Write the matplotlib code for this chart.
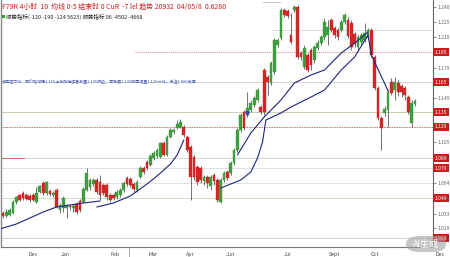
import matplotlib
matplotlib.use('Agg')
import matplotlib.pyplot as plt
import matplotlib.transforms as mtransforms
from matplotlib.patches import FancyBboxPatch, Rectangle

plt.rcParams['font.family'] = ['Noto Sans CJK SC', 'DejaVu Sans']

# ---------------- data ----------------
opens = [1.034, 1.031, 1.032, 1.034, 1.045, 1.052, 1.054, 1.052, 1.051, 1.052,
         1.045, 1.055, 1.064, 1.054, 1.056, 1.052, 1.057, 1.037, 1.039, 1.039,
         1.041, 1.039, 1.043, 1.046, 1.045, 1.057, 1.060, 1.063, 1.067, 1.065,
         1.062, 1.062, 1.052, 1.052, 1.050, 1.052, 1.057, 1.069, 1.068, 1.063,
         1.057, 1.070, 1.079, 1.085, 1.082, 1.089, 1.091, 1.090, 1.104, 1.092,
         1.110, 1.115, 1.119, 1.120, 1.120, 1.110, 1.100, 1.090, 1.080, 1.079,
         1.066, 1.070, 1.061, 1.072, 1.067, 1.045, 1.067, 1.075, 1.074, 1.084,
         1.097, 1.117, 1.135, 1.132, 1.137, 1.142, 1.147, 1.140, 1.177, 1.170,
         1.164, 1.175, 1.202, 1.209, 1.237, 1.236, 1.212, 1.237, 1.240, 1.194,
         1.180, 1.192, 1.197, 1.187, 1.199, 1.204, 1.210, 1.212, 1.227, 1.219,
         1.217, 1.217, 1.225, 1.227, 1.224, 1.213, 1.200, 1.205, 1.207, 1.209,
         1.217, 1.190, 1.159, 1.129, 1.134, 1.137, 1.165, 1.157, 1.164, 1.161,
         1.159, 1.150, 1.124, 1.143]
highs = [1.036, 1.038, 1.039, 1.047, 1.051, 1.053, 1.056, 1.054, 1.053, 1.054,
         1.060, 1.062, 1.066, 1.066, 1.058, 1.056, 1.059, 1.044, 1.051, 1.043,
         1.042, 1.043, 1.045, 1.048, 1.060, 1.079, 1.069, 1.069, 1.069, 1.072,
         1.064, 1.064, 1.054, 1.054, 1.057, 1.059, 1.066, 1.071, 1.070, 1.065,
         1.067, 1.081, 1.081, 1.087, 1.093, 1.096, 1.099, 1.105, 1.106, 1.112,
         1.119, 1.119, 1.127, 1.128, 1.122, 1.112, 1.102, 1.092, 1.082, 1.081,
         1.072, 1.072, 1.072, 1.074, 1.069, 1.069, 1.076, 1.077, 1.086, 1.099,
         1.119, 1.134, 1.137, 1.155, 1.147, 1.151, 1.159, 1.142, 1.179, 1.172,
         1.186, 1.209, 1.209, 1.239, 1.239, 1.238, 1.234, 1.242, 1.242, 1.196,
         1.202, 1.194, 1.199, 1.202, 1.207, 1.212, 1.229, 1.227, 1.229, 1.221,
         1.219, 1.227, 1.234, 1.230, 1.227, 1.215, 1.212, 1.214, 1.224, 1.219,
         1.219, 1.192, 1.161, 1.131, 1.141, 1.157, 1.169, 1.170, 1.167, 1.163,
         1.161, 1.152, 1.147, 1.148]
lows = [1.029, 1.030, 1.031, 1.033, 1.043, 1.046, 1.047, 1.047, 1.045, 1.046,
        1.044, 1.054, 1.052, 1.052, 1.051, 1.050, 1.039, 1.034, 1.035, 1.029,
        1.037, 1.035, 1.033, 1.035, 1.044, 1.056, 1.057, 1.061, 1.053, 1.047,
        1.052, 1.047, 1.045, 1.047, 1.048, 1.050, 1.055, 1.061, 1.060, 1.055,
        1.055, 1.069, 1.073, 1.077, 1.081, 1.087, 1.089, 1.089, 1.091, 1.091,
        1.109, 1.113, 1.118, 1.119, 1.110, 1.095, 1.047, 1.067, 1.062, 1.064,
        1.062, 1.059, 1.057, 1.062, 1.045, 1.044, 1.065, 1.067, 1.072, 1.082,
        1.095, 1.115, 1.117, 1.130, 1.135, 1.140, 1.145, 1.133, 1.132, 1.152,
        1.162, 1.173, 1.200, 1.207, 1.230, 1.229, 1.203, 1.235, 1.188, 1.187,
        1.178, 1.175, 1.177, 1.184, 1.197, 1.202, 1.207, 1.202, 1.215, 1.209,
        1.207, 1.215, 1.223, 1.209, 1.197, 1.200, 1.197, 1.202, 1.205, 1.207,
        1.190, 1.157, 1.127, 1.097, 1.131, 1.120, 1.152, 1.147, 1.151, 1.150,
        1.147, 1.133, 1.120, 1.141]
closes = [1.031, 1.035, 1.037, 1.045, 1.050, 1.047, 1.049, 1.048, 1.047, 1.047,
          1.054, 1.061, 1.054, 1.065, 1.053, 1.054, 1.040, 1.042, 1.049, 1.041,
          1.040, 1.041, 1.035, 1.037, 1.058, 1.074, 1.067, 1.067, 1.055, 1.052,
          1.054, 1.050, 1.047, 1.049, 1.055, 1.057, 1.064, 1.063, 1.062, 1.058,
          1.065, 1.079, 1.075, 1.079, 1.091, 1.094, 1.097, 1.104, 1.092, 1.110,
          1.117, 1.117, 1.123, 1.125, 1.112, 1.097, 1.070, 1.070, 1.065, 1.067,
          1.070, 1.064, 1.070, 1.066, 1.047, 1.067, 1.074, 1.069, 1.084, 1.097,
          1.117, 1.132, 1.119, 1.139, 1.144, 1.149, 1.157, 1.135, 1.135, 1.165,
          1.184, 1.207, 1.207, 1.237, 1.232, 1.231, 1.205, 1.240, 1.190, 1.190,
          1.199, 1.177, 1.182, 1.200, 1.204, 1.210, 1.225, 1.220, 1.217, 1.212,
          1.210, 1.225, 1.232, 1.211, 1.200, 1.203, 1.210, 1.212, 1.214, 1.217,
          1.192, 1.159, 1.129, 1.119, 1.138, 1.155, 1.154, 1.165, 1.155, 1.155,
          1.152, 1.135, 1.144, 1.146]

# moving-average style curves (candle index, price)
ma1_idx = [-1, 4, 8, 12, 16, 20, 24, 29]
ma1_val = [1.018, 1.023, 1.029, 1.035, 1.040, 1.042, 1.044, 1.046]
ma2_idx = [28, 33, 38, 43, 46, 50, 52, 54]
ma2_val = [1.040, 1.044, 1.051, 1.063, 1.071, 1.083, 1.092, 1.107]
ma3_idx = [70, 74, 78, 83, 87, 92, 96, 101, 105, 109]
ma3_val = [1.092, 1.114, 1.130, 1.147, 1.164, 1.172, 1.177, 1.194, 1.204, 1.215]
ma4_idx = [65, 71, 74, 76, 77.5, 78.5, 83, 86, 92, 96, 101, 105, 109, 110, 112.5, 115]
ma4_val = [1.059, 1.067, 1.075, 1.089, 1.105, 1.127, 1.134, 1.140, 1.150, 1.157,
           1.177, 1.190, 1.212, 1.192, 1.174, 1.156]

# horizontal levels
level_boxes = [1.195, 1.165, 1.135, 1.120, 1.089, 1.079, 1.049, 1.009]
plain_ticks = [1.240, 1.225, 1.210, 1.179, 1.149, 1.105, 1.064, 1.033, 1.019]
month_labels = ['Dec', 'Jan', 'Feb', 'Mar', 'Apr', 'Jun', 'Jul', 'Sept', 'Oct', 'Dec']
month_pos = [9.0, 18.5, 33.4, 44.8, 55.8, 67.8, 85.1, 99.1, 111.0, 130.4]

title1 = 'F79R 4小时  10  均线 0-5 结束时 0 CuR  -7 lel 趋势 20932  04/05/8  0.6280'
title2 = '顺势指标(-120 -190 -124 5623) 顺势指标 06 -4502 -4668'
note_text = '支撑阻力线：若价格站稳1.165上方则继续看涨至1.195附近，若跌破1.135则回落至1.120一线，关注1.089支撑'

# ---------------- figure ----------------
W, H = 450, 257
fig = plt.figure(figsize=(W / 100, H / 100), dpi=100)
fig.patch.set_facecolor('white')
ax = fig.add_axes([1 / W, 10 / H, 432 / W, 247 / H])
ax.set_xlim(-0.6, 128.4)
ax.set_ylim(1.000, 1.247)
ax.set_facecolor('white')

ax.spines['top'].set_visible(False)
ax.spines['left'].set_color('#888888')
ax.spines['left'].set_linewidth(1.0)
ax.spines['right'].set_color('#666666')
ax.spines['right'].set_linewidth(0.8)
ax.spines['bottom'].set_color('#777777')
ax.spines['bottom'].set_linewidth(0.8)

def hline(y, x0=None, x1=None, color='#c8c8c8', ls='-', lw=0.6):
    xa = ax.get_xlim()[0] if x0 is None else x0
    xb = ax.get_xlim()[1] if x1 is None else x1
    ax.plot([xa, xb], [y, y], color=color, ls=ls, lw=lw, zorder=1)

hline(1.195, 39.4, None, color='#c98a8a', ls=(0, (1.5, 1)), lw=0.6)
hline(1.165, color='#cfcfcf', lw=0.6)
hline(1.135, color='#c9cfb4', lw=0.7)
hline(1.120, color='#d86060', ls=(0, (2, 1)), lw=0.6)
hline(1.089, color='#cdcdcd', lw=0.6)
hline(1.089, None, 6.3, color='#cc5555', lw=0.6)
hline(1.079, color='#d2d2d2', lw=0.5)
hline(1.064, color='#d5d5d5', lw=0.5)
hline(1.049, color='#cdd2bb', lw=0.6)
hline(1.009, color='#cccccc', lw=0.6)
hline(1.217, 80.3, None, color='#d0d0d0', lw=0.5)
hline(1.245, 77.6, 82.7, color='#bbbbbb', lw=0.6)

ax.text(-0.3, 1.165, note_text, fontsize=2.9, color='#4050b0', va='center', ha='left', zorder=2)

# candles
n = len(opens)
xs = list(range(n))
up = '#3f9c3f'
dn = '#d02626'
for i in xs:
    o, h, l, c = opens[i], highs[i], lows[i], closes[i]
    col = up if c >= o else dn
    ax.vlines(i, l, h, color='#4a4a4a', lw=0.55, zorder=3)
    bot = min(o, c)
    ht = max(abs(c - o), 0.0014)
    ax.bar(i, ht, bottom=bot, width=0.82, color=col, edgecolor=col, lw=0.3, zorder=4)

# moving averages
navy = '#1e237d'
for idx, val in [(ma1_idx, ma1_val), (ma2_idx, ma2_val), (ma3_idx, ma3_val), (ma4_idx, ma4_val)]:
    ax.plot(idx, val, color=navy, lw=0.8, zorder=5, solid_capstyle='round')

ax.plot([72.8], [1.134], marker='v', ms=2.5, color='#3344bb', zorder=6, ls='none')

# right axis ticks
ax.yaxis.tick_right()
ax.set_yticks(plain_ticks)
ax.set_yticklabels([f'{v:.3f}' for v in plain_ticks])
ax.tick_params(axis='y', labelsize=3.6, colors='#666666', length=2, width=0.5, pad=1)
ax.set_xticks([])

blend = mtransforms.blended_transform_factory(ax.transAxes, ax.transData)
for v in level_boxes:
    ax.text(1.004, v, f'{v:.3f}', transform=blend, fontsize=3.6, color='white',
            va='center', ha='left', clip_on=False, zorder=10,
            bbox=dict(boxstyle='square,pad=0.3', fc='#c81e1e', ec='none'))

# month labels
blendx = mtransforms.blended_transform_factory(ax.transData, ax.transAxes)
for p, lab in zip(month_pos, month_labels):
    ax.text(p, -0.02, lab, transform=blendx, fontsize=3.8, color='#444444',
            ha='center', va='top', clip_on=False)
ax.plot([37.6, 37.6], [0, -0.04], transform=blendx, color='#888888', lw=0.5, clip_on=False)

# header texts
fig.text(2 / W, 1 - 7 / H, title1, fontsize=5.0, color='#c81e1e', va='center', ha='left')
fig.patches.append(Rectangle((2 / W, 1 - 18 / H), 3 / W, 3 / H, transform=fig.transFigure,
                             fc='#22aa22', ec='none'))
fig.text(6 / W, 1 - 16.5 / H, title2, fontsize=4.0, color='#222222', va='center', ha='left')

# watermark
fig.patches.append(FancyBboxPatch((406 / W, 1 - 252 / H), 40 / W, 16 / H,
                                  boxstyle='round,pad=0,rounding_size=0.03',
                                  transform=fig.transFigure, fc='#a0a0a0', ec='none',
                                  alpha=0.6, zorder=20))
fig.text(426 / W, 1 - 244 / H, 'AI生成', fontsize=6.5, color='white', ha='center',
         va='center', zorder=21, alpha=0.95)

fig.savefig('out.png', dpi=100, facecolor='white')
